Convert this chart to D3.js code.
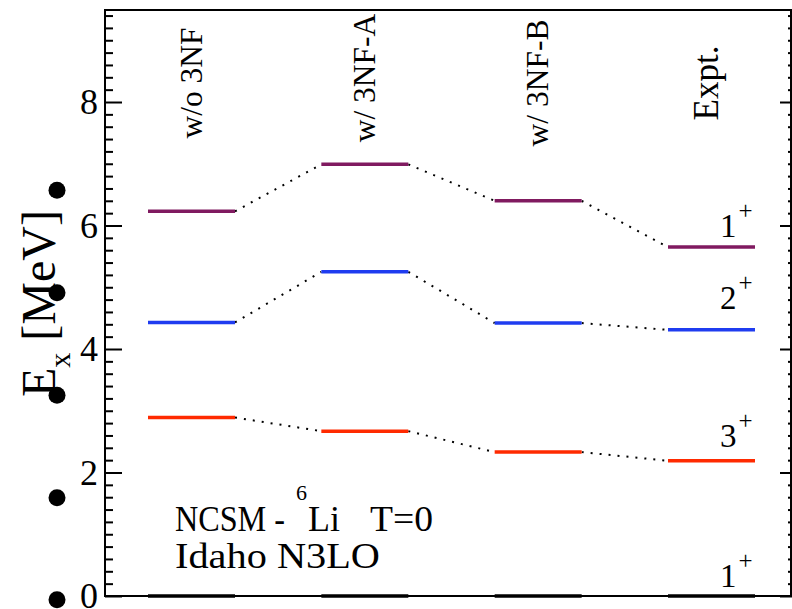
<!DOCTYPE html>
<html>
<head>
<meta charset="utf-8">
<script src="https://cdn.jsdelivr.net/npm/d3@7"></script>
<style>
  body { margin: 0; background: #fff; }
</style>
</head>
<body>
<div id="chart"></div>
<script>
var width = 792;
var height = 609;
var serif = "'Liberation Serif', 'Times New Roman', 'DejaVu Serif', serif";

// data (MeV)
var models = ["w/o 3NF", "w/ 3NF-A", "w/ 3NF-B", "Expt."];
var gsLevels = [0, 0, 0, 0];              // 1+ ground state
var threePlus = [2.89, 2.67, 2.33, 2.19]; // 3+
var twoPlus = [4.43, 5.25, 4.42, 4.31];   // 2+
var onePlus = [6.23, 6.99, 6.40, 5.65];   // 1+ excited
var stateNames = ["1", "3", "2", "1"];
var majorTicks = [0, 2, 4, 6, 8];
var yMax = 9.49;
var bulletValues = [6.57, 4.91, 3.25, 1.59, -0.06];

var series = [
  { name: stateNames[0], values: gsLevels, color: "#000000", labelDy: 9 },
  { name: stateNames[1], values: threePlus, color: "#ff2a00", labelDy: 14 },
  { name: stateNames[2], values: twoPlus, color: "#1f3cf0", labelDy: 21 },
  { name: stateNames[3], values: onePlus, color: "#801a60", labelDy: 10 }
];

// plot box ("top" is taken on window, so other names)
var boxLeft = 105, boxRight = 792, boxTop = 10, boxBottom = 596;
var halfLevel = 43.5;

var svg = d3.select("#chart")
  .append("svg")
  .attr("width", width)
  .attr("height", height)
  .style("font-family", serif);

var xScale = d3.scalePoint()
  .domain(models)
  .range([191.5, 711.5]);

var yScale = d3.scaleLinear()
  .domain([0, yMax])
  .range([boxBottom, boxTop]);

var minorTicks = d3.range(1, 48).filter(function(i) { return i % 10 !== 0; })
  .map(function(i) { return i / 5; });

function plainTicks(g) {
  g.attr("font-family", null);
  g.select(".domain").remove();
  g.selectAll("line").attr("stroke-width", 2);
}

// left axis
svg.append("g")
  .attr("class", "yAxis")
  .attr("transform", "translate(" + boxLeft + ",0)")
  .call(d3.axisLeft(yScale).tickValues(majorTicks).tickSizeInner(-17).tickSizeOuter(0).tickPadding(7))
  .call(plainTicks)
  .call(function(g) {
    g.attr("font-size", null);
    g.selectAll("text").style("font-family", serif).style("font-size", "36px").attr("fill", "#000");
  });

svg.append("g")
  .attr("transform", "translate(" + boxLeft + ",0)")
  .call(d3.axisLeft(yScale).tickValues(minorTicks).tickSizeInner(-8).tickSizeOuter(0).tickFormat(""))
  .call(plainTicks);

// right axis
svg.append("g")
  .attr("transform", "translate(" + boxRight + ",0)")
  .call(d3.axisRight(yScale).tickValues(majorTicks).tickSizeInner(-12).tickSizeOuter(0).tickFormat(""))
  .call(plainTicks);

svg.append("g")
  .attr("transform", "translate(" + boxRight + ",0)")
  .call(d3.axisRight(yScale).tickValues(minorTicks).tickSizeInner(-4).tickSizeOuter(0).tickFormat(""))
  .call(plainTicks);

// frame
svg.append("path")
  .attr("d", "M" + boxLeft + "," + boxBottom + "V" + boxTop + "H" + (boxRight - 1) + "V" + boxBottom + "Z")
  .attr("fill", "none")
  .attr("stroke", "#000")
  .attr("stroke-width", 2);

// dotted connectors
series.forEach(function(s) {
  for (var i = 0; i < models.length - 1; i++) {
    svg.append("line")
      .attr("x1", xScale(models[i]) + halfLevel)
      .attr("y1", yScale(s.values[i]))
      .attr("x2", xScale(models[i + 1]) - halfLevel)
      .attr("y2", yScale(s.values[i + 1]))
      .attr("stroke", "#000")
      .attr("stroke-width", 2)
      .attr("stroke-dasharray", "2,7");
  }
});

// levels
series.forEach(function(s) {
  svg.selectAll(null)
    .data(s.values)
    .enter()
    .append("line")
    .attr("x1", function(d, i) { return xScale(models[i]) - halfLevel; })
    .attr("x2", function(d, i) { return xScale(models[i]) + halfLevel; })
    .attr("y1", function(d) { return yScale(d); })
    .attr("y2", function(d) { return yScale(d); })
    .attr("stroke", s.color)
    .attr("stroke-width", 3.5);
});

// J^pi labels next to experimental levels
series.forEach(function(s) {
  var t = svg.append("text")
    .attr("x", 720)
    .attr("y", yScale(s.values[3]) - s.labelDy)
    .style("font-family", serif)
    .style("font-size", "33px");
  t.append("tspan").text(s.name);
  t.append("tspan").style("font-size", "25px").attr("dx", 2).attr("dy", -18).text("+");
});

// column headings
var headNudge = [0, -5, 0, 0];
svg.selectAll(null)
  .data(models)
  .enter()
  .append("text")
  .attr("transform", function(d, i) {
    return "translate(" + (xScale(d) + (i === 3 ? 6 : 10)) + "," + (83 + headNudge[i]) + ")rotate(-90)";
  })
  .attr("text-anchor", "middle")
  .style("font-family", serif)
  .style("font-size", function(d, i) { return (i === 3 ? 35 : 31.5) + "px"; })
  .text(function(d) { return d; });

// y axis title
var yTitle = svg.append("text")
  .attr("transform", "translate(55,397)rotate(-90)")
  .style("font-family", serif)
  .style("font-size", "48px");
yTitle.append("tspan").text("E");
yTitle.append("tspan").style("font-size", "30px").attr("dy", 15).text("x");
yTitle.append("tspan").attr("dy", -15).text(" [MeV]");

// stray bullets on the left
svg.selectAll("circle.bullet")
  .data(bulletValues)
  .enter()
  .append("circle")
  .attr("class", "bullet")
  .attr("cx", 57)
  .attr("cy", function(d) { return yScale(d); })
  .attr("r", 8.5)
  .attr("fill", "#000");

// annotation, some pieces stretched to the widths seen in the picture
function note(str, x, y, size, len) {
  var t = svg.append("text")
    .attr("x", x)
    .attr("y", y)
    .style("font-family", serif)
    .style("font-size", size + "px")
    .text(str);
  if (len) t.attr("textLength", len).attr("lengthAdjust", "spacingAndGlyphs");
  return t;
}
note("NCSM -", 175, 531, 36, 110);
note("6", 296, 500, 22);
note("Li", 308, 531, 36);
note("T=0", 370, 531, 36, 63);
note("Idaho N3LO", 175, 568, 36, 205);
</script>
</body>
</html>
